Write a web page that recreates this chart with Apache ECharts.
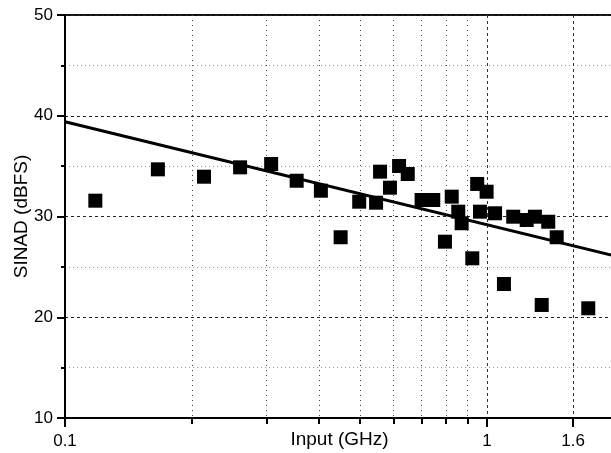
<!DOCTYPE html>
<html>
<head>
<meta charset="utf-8">
<script src="https://cdn.jsdelivr.net/npm/echarts@6/dist/echarts.min.js"></script>
<style>
  html, body { margin: 0; padding: 0; background: #fff; }
  #chart { width: 611px; height: 453px; }
</style>
</head>
<body>
<div id="chart"></div>
<script>
// Measured data: input frequency (GHz) and SINAD (dBFS)
const inputGHz = [0.118, 0.166, 0.2135, 0.26, 0.308, 0.354, 0.404, 0.45, 0.498, 0.546,
  0.558, 0.589, 0.619, 0.649, 0.700, 0.746, 0.795, 0.825, 0.855, 0.871,
  0.923, 0.948, 0.9625, 0.998, 1.045, 1.097, 1.154, 1.242, 1.299, 1.348,
  1.397, 1.463, 1.738];
const sinad = [31.57, 34.68, 33.95, 34.88, 35.21, 33.55, 32.56, 27.94, 31.47, 31.37,
  34.45, 32.86, 35.01, 34.22, 31.64, 31.64, 27.5, 31.97, 30.48, 29.33,
  25.85, 33.23, 30.48, 32.46, 30.32, 23.3, 29.98, 29.65, 29.98, 21.22,
  29.48, 27.94, 20.89];
// Linear fit line (on log x)
const fitX = [0.1, 2];
const fitY = [39.4, 26.1];
// Axis ticks
const xMajorTicks = [0.1, 1, 1.6];
const xMinorTicks = [0.2, 0.3, 0.4, 0.5, 0.6, 0.7, 0.8, 0.9];
const yMin = 10, yMax = 50, yStep = 10;

const FONT = '"Liberation Sans", Arial, sans-serif';
const chart = echarts.init(document.getElementById('chart'), null, { renderer: 'canvas' });

const scatterData = inputGHz.map((x, i) => [x, sinad[i]]);
const fitData = fitX.map((x, i) => [x, fitY[i]]);

chart.setOption({
  animation: false,
  backgroundColor: '#fff',
  grid: {
    left: 65, top: 15, right: -3, bottom: 35,
    show: true, borderColor: '#111', borderWidth: 2,
    outerBoundsMode: 'none', containLabel: false
  },
  xAxis: [
    {
      type: 'log', logBase: 10, min: 0.1, max: 2, position: 'bottom',
      name: 'Input (GHz)', nameLocation: 'middle', nameGap: 12, nameMoveOverlap: false,
      nameTextStyle: { fontFamily: FONT, fontSize: 19, color: '#000' },
      axisLine: { show: true, lineStyle: { color: '#000', width: 2 } },
      axisTick: { show: true, inside: false, length: 9, customValues: xMajorTicks,
        lineStyle: { color: '#000', width: 2 } },
      axisLabel: { show: true, customValues: xMajorTicks, margin: 15,
        fontFamily: FONT, fontSize: 17, color: '#000',
        formatter: v => String(v) },
      splitLine: { show: true, lineStyle: { color: '#333', width: 1, type: [3, 3] } },
      minorTick: { show: false }, minorSplitLine: { show: false }
    },
    {
      type: 'log', logBase: 10, min: 0.1, max: 2, position: 'bottom',
      axisLine: { show: false },
      axisTick: { show: true, inside: false, length: 6, customValues: xMinorTicks,
        lineStyle: { color: '#000', width: 2 } },
      axisLabel: { show: false },
      splitLine: { show: true, lineStyle: { color: '#444', width: 1, type: [1, 4] } },
      minorTick: { show: false }, minorSplitLine: { show: false }
    }
  ],
  yAxis: {
    type: 'value', min: yMin, max: yMax, interval: yStep,
    name: 'SINAD (dBFS)', nameLocation: 'middle', nameGap: 34, nameMoveOverlap: false,
    nameTextStyle: { fontFamily: FONT, fontSize: 19, color: '#000' },
    axisLine: { show: true, lineStyle: { color: '#000', width: 2 } },
    axisTick: { show: true, inside: false, length: 8, lineStyle: { color: '#000', width: 2 } },
    minorTick: { show: true, splitNumber: 2, length: 4, lineStyle: { color: '#000', width: 2 } },
    axisLabel: { margin: 12, fontFamily: FONT, fontSize: 17, color: '#000' },
    splitLine: { show: true, lineStyle: { color: '#222', width: 1, type: [3, 3] } },
    minorSplitLine: { show: true, lineStyle: { color: '#999', width: 1, type: [1, 3] } }
  },
  series: [
    {
      type: 'scatter', xAxisIndex: 0, data: scatterData,
      symbol: 'rect', symbolSize: 14,
      itemStyle: { color: '#000', opacity: 1 },
      z: 3
    },
    {
      type: 'line', xAxisIndex: 0, data: fitData,
      symbol: 'none', lineStyle: { color: '#000', width: 3 }, z: 4
    }
  ]
});
</script>
</body>
</html>
